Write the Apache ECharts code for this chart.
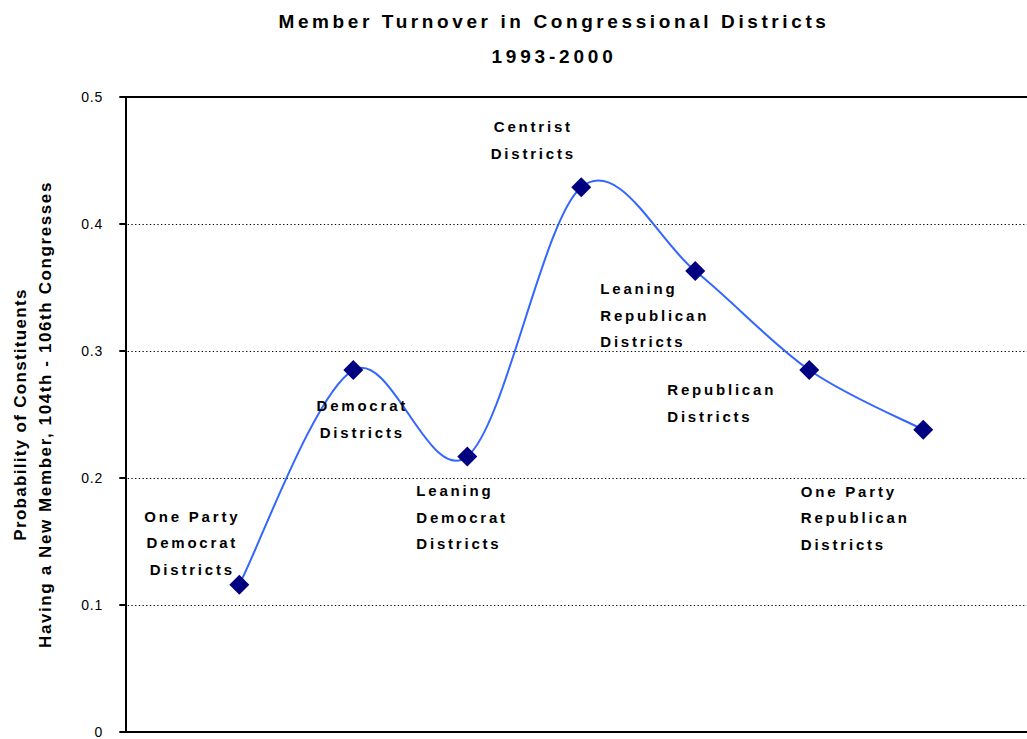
<!DOCTYPE html>
<html>
<head>
<meta charset="utf-8">
<script src="https://cdn.jsdelivr.net/npm/echarts@6/dist/echarts.min.js"></script>
<style>
  html, body { margin: 0; padding: 0; background: #fff; }
  #chart { width: 1027px; height: 739px; }
</style>
</head>
<body>
<div id="chart"></div>
<script>
// ---- data ----
const categories = [
  'One Party\nDemocrat\nDistricts',
  'Democrat\nDistricts',
  'Leaning\nDemocrat\nDistricts',
  'Centrist\nDistricts',
  'Leaning\nRepublican\nDistricts',
  'Republican\nDistricts',
  'One Party\nRepublican\nDistricts'
];
const turnover = [0.116, 0.285, 0.217, 0.429, 0.363, 0.285, 0.238];
const yTickLabels = ['0', '0.1', '0.2', '0.3', '0.4', '0.5'];
const titleText = 'Member Turnover in Congressional Districts';
const subtitleText = '1993-2000';
const yAxisTitle = ['Probability of Constituents', 'Having a New Member, 104th - 106th Congresses'];

// ---- label placement (style, relative to each point) ----
const labelPlacement = [
  { align: 'center', offset: [-47, -42] },
  { align: 'center', offset: [9, 49] },
  { align: 'left',   offset: [-51, 61] },
  { align: 'center', offset: [-48, -47] },
  { align: 'left',   offset: [-95, 44.5] },
  { align: 'left',   offset: [-142, 33] },
  { align: 'left',   offset: [-122.5, 88] }
];

const FONT = "'Liberation Sans', Arial, Helvetica, sans-serif";
const LINE_COLOR = '#3366FF';

const points = turnover.map((v, i) => [i + 1, v]);

const seriesData = points.map((p, i) => ({
  value: p,
  label: {
    show: true,
    position: 'inside',
    align: labelPlacement[i].align,
    verticalAlign: 'middle',
    offset: labelPlacement[i].offset,
    formatter: () => categories[i]
  }
}));

// Smoothed connecting curve (Catmull-Rom style Bezier through the points, in pixel space)
function renderCurve(params, api) {
  const n = points.length;
  const i = params.dataIndex;
  if (i >= n - 1) return null;
  const P = k => api.coord(points[Math.max(0, Math.min(n - 1, k))]);
  const p0 = P(i - 1), p1 = P(i), p2 = P(i + 1), p3 = P(i + 2);
  return {
    type: 'bezierCurve',
    silent: true,
    shape: {
      x1: p1[0], y1: p1[1],
      x2: p2[0], y2: p2[1],
      cpx1: p1[0] + (p2[0] - p0[0]) / 6,
      cpy1: p1[1] + (p2[1] - p0[1]) / 6,
      cpx2: p2[0] - (p3[0] - p1[0]) / 6,
      cpy2: p2[1] - (p3[1] - p1[1]) / 6
    },
    style: { stroke: LINE_COLOR, lineWidth: 2, fill: null }
  };
}

const dom = document.getElementById('chart');
const chart = echarts.init(dom, null, { renderer: 'svg' });

const baseXAxis = {
  type: 'value',
  min: -0.0114,
  max: 7.91,
  axisLine: { show: true, onZero: false, lineStyle: { color: '#000', width: 2 } },
  axisTick: { show: false },
  axisLabel: { show: false },
  splitLine: { show: false }
};

chart.setOption({
  animation: false,
  backgroundColor: '#fff',
  title: {
    text: titleText + '\n' + subtitleText,
    left: 554,
    top: 0,
    padding: [4, 0, 0, 0],
    textAlign: 'center',
    textStyle: { fontFamily: FONT, fontSize: 19, fontWeight: 'bold', color: '#000', lineHeight: 35 }
  },
  grid: { left: 124, right: 0, top: 97, bottom: 3, containLabel: false },
  xAxis: [
    Object.assign({ position: 'bottom' }, baseXAxis),
    Object.assign({ position: 'top' }, baseXAxis)
  ],
  yAxis: {
    type: 'value',
    min: 0,
    max: 0.5,
    interval: 0.1,
    name: yAxisTitle.join('\n'),
    nameLocation: 'middle',
    nameRotate: 90,
    nameGap: 66,
    nameTextStyle: { fontFamily: FONT, fontSize: 17, fontWeight: 'bold', color: '#000', lineHeight: 25 },
    axisLine: { show: true, lineStyle: { color: '#000', width: 2 } },
    axisTick: { show: true, length: 6, lineStyle: { color: '#000', width: 2 } },
    axisLabel: {
      margin: 21,
      fontFamily: FONT, fontSize: 14, color: '#000',
      formatter: (v) => yTickLabels[Math.round(v * 10)]
    },
    splitLine: { show: true, lineStyle: { color: '#000', width: 1, type: [1.3, 2.4] } }
  },
  series: [
    {
      type: 'custom',
      coordinateSystem: 'cartesian2d',
      data: points,
      encode: { x: 0, y: 1 },
      renderItem: renderCurve,
      silent: true,
      clip: false,
      z: 2
    },
    {
      type: 'line',
      data: seriesData,
      silent: true,
      symbol: 'diamond',
      symbolSize: 20,
      lineStyle: { width: 0, opacity: 0 },
      itemStyle: { color: '#000080', borderWidth: 0 },
      label: {
        fontFamily: FONT, fontSize: 15, fontWeight: 'bold', color: '#000', lineHeight: 26.5
      },
      z: 3
    }
  ]
});

// letter spacing as in the original (applied to the SVG text nodes)
const titleLines = [titleText, subtitleText];
const labelLines = new Set(categories.join('\n').split('\n'));
function applySpacing() {
  dom.querySelectorAll('text').forEach(t => {
    const s = t.textContent;
    if (s === titleText) t.setAttribute('letter-spacing', '3.6');
    else if (s === subtitleText) t.setAttribute('letter-spacing', '3.8');
    else if (labelLines.has(s)) t.setAttribute('letter-spacing', '2.8');
    else if (s === yAxisTitle[0]) t.setAttribute('letter-spacing', '1.3');
    else if (s === yAxisTitle[1]) t.setAttribute('letter-spacing', '1.6');
    else if (yTickLabels.includes(s)) t.setAttribute('letter-spacing', '0.8');
  });
}
applySpacing();
chart.on('finished', applySpacing);
setTimeout(applySpacing, 50);
</script>
</body>
</html>
